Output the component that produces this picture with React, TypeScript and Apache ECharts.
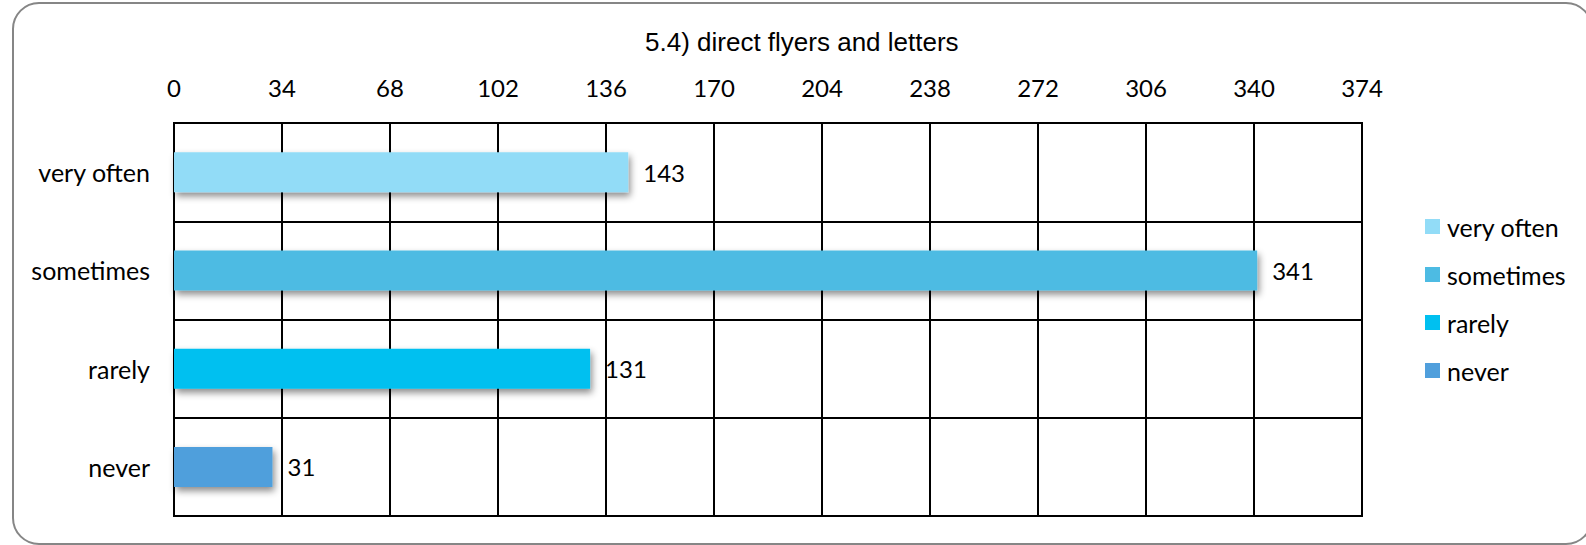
import React, { useEffect, useRef } from "react";
import * as echarts from "echarts";

const title = "5.4) direct flyers and letters";
const categories = ["very often", "sometimes", "rarely", "never"];
const values = [143, 341, 131, 31];
const colors = ["#92DCF7", "#4DBBE3", "#00C0F0", "#509FDC"];
const axisMin = 0;
const axisMax = 374;
const axisStep = 34;

const FONT = "Lato, 'Open Sans', sans-serif";

export default function App() {
  const ref = useRef<HTMLDivElement>(null);

  useEffect(() => {
    if (!ref.current) return;
    const chart = echarts.init(ref.current, undefined, { renderer: "svg" });

    const series = categories.map((name, i) => ({
      name,
      type: "bar",
      stack: "all",
      barWidth: 40,
      data: categories.map((_, j) => (j === i ? values[i] : "-")),
      itemStyle: {
        color: colors[i],
        shadowColor: "rgba(0,0,0,0.45)",
        shadowBlur: 7,
        shadowOffsetX: 2,
        shadowOffsetY: 4,
      },
      label: {
        show: true,
        position: "right",
        distance: 15,
        color: "#000",
        fontFamily: FONT,
        fontSize: 24,
      },
    }));

    chart.setOption({
      animation: false,
      backgroundColor: "#fff",
      title: {
        text: title,
        left: 640,
        top: 24,
        textStyle: {
          fontFamily: "'Liberation Sans', Arial, sans-serif",
          fontSize: 26,
          fontWeight: "normal",
          color: "#000",
        },
      },
      graphic: [
        {
          type: "rect",
          shape: { x: 13, y: 3, width: 1579, height: 541, r: 26 },
          style: { fill: "none", stroke: "#868686", lineWidth: 2 },
          silent: true,
          z: -1,
        },
      ],
      legend: {
        orient: "vertical",
        left: 1420,
        top: 209,
        icon: "rect",
        itemWidth: 15,
        itemHeight: 15,
        itemGap: 23,
        data: categories,
        textStyle: {
          fontFamily: FONT,
          fontSize: 25,
          color: "#000",
          lineHeight: 24,
          padding: [0, 0, 0, 2],
        },
      },
      grid: {
        left: 174,
        top: 123,
        width: 1188,
        height: 393,
        show: true,
        borderColor: "#000",
        borderWidth: 2,
        backgroundColor: "transparent",
      },
      xAxis: {
        type: "value",
        position: "top",
        min: axisMin,
        max: axisMax,
        interval: axisStep,
        axisLine: { show: false },
        axisTick: { show: false },
        axisLabel: {
          margin: 24,
          color: "#000",
          fontFamily: FONT,
          fontSize: 24,
        },
        splitLine: { show: true, lineStyle: { color: "#000", width: 2 } },
      },
      yAxis: {
        type: "category",
        inverse: true,
        data: categories,
        axisLine: { show: false },
        axisTick: { show: false },
        axisLabel: {
          margin: 24,
          color: "#000",
          fontFamily: FONT,
          fontSize: 25,
        },
        splitLine: { show: true, lineStyle: { color: "#000", width: 2 } },
      },
      series,
    });

    return () => chart.dispose();
  }, []);

  return (
    <div
      ref={ref}
      style={{ position: "fixed", left: 0, top: 0, width: 1586, height: 545 }}
    />
  );
}
